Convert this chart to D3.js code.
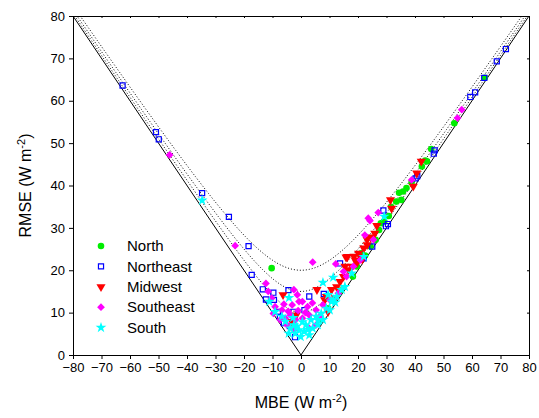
<!DOCTYPE html>
<html>
<head>
<meta charset="utf-8">
<script src="https://cdn.jsdelivr.net/npm/d3@7"></script>
<style>
  body { margin: 0; background: #fff; }
  text { font-family: Arial, "Liberation Sans", sans-serif; fill: #000; }
</style>
</head>
<body>
<div id="chart"></div>
<script>
// Data: [MBE, RMSE] pairs
const north = [
  [-10.3, 20.5], [18.2, 18.5], [27.4, 29.5], [30.8, 32.8], [34.4, 38.3], [33.4, 36.2],
  [37.0, 39.4], [38.8, 40.7], [43.6, 45.9], [45.7, 48.6], [53.8, 54.7], [64.5, 65.4],
  [26.2, 27.2], [24.4, 25.6], [28.0, 31.1], [31.6, 35.0], [35.2, 36.6], [35.8, 38.6],
  [42.4, 44.5], [44.2, 45.7], [21.1, 24.0], [19.6, 20.9], [14.0, 15.2], [9.5, 11.0],
  [6.5, 8.3], [29.2, 31.5], [22.5, 23.5]
];
const northeast = [
  [-62.6, 63.6], [-50.9, 52.6], [-49.9, 50.9], [-34.7, 38.2], [-25.3, 32.6], [-18.4, 25.7],
  [-17.3, 18.9], [-13.4, 15.5], [-12.3, 13.1], [-9.7, 14.7], [-9.5, 13.0], [-4.4, 15.3],
  [-8.1, 10.2], [-7.4, 9.0], [-6.0, 7.5], [-2.7, 10.2], [1.2, 10.6], [2.9, 13.8],
  [-2.1, 4.2], [-3.9, 6.8], [8.0, 14.4], [13.7, 21.6], [28.9, 34.1], [25.0, 25.6],
  [29.8, 30.4], [30.5, 30.9], [40.2, 41.7], [40.8, 42.2], [46.9, 48.3], [46.6, 47.5],
  [59.4, 60.9], [61.1, 62.0], [64.3, 65.4], [68.7, 69.3], [71.9, 72.2], [22.0, 22.8]
];
const midwest = [
  [-6.3, 14.2], [5.6, 15.4], [15.8, 23.1], [31.4, 36.6], [31.8, 34.6], [42.2, 45.7],
  [40.6, 42.9], [39.4, 39.8], [26.6, 30.5], [25.9, 28.7], [23.2, 27.2], [22.0, 25.2],
  [20.2, 24.0], [19.0, 22.4], [17.8, 20.9], [16.6, 20.1], [14.9, 18.5], [13.7, 17.3],
  [12.5, 16.1], [10.7, 15.4], [8.9, 13.8], [9.5, 10.2], [8.3, 13.0], [24.4, 27.8],
  [18.6, 23.3], [19.6, 21.7], [20.8, 23.3], [23.2, 26.0], [-3.2, 7.9], [-1.7, 9.4],
  [15.4, 20.9], [16.3, 23.2], [12.0, 13.5], [21.5, 22.6]
];
const southeast = [
  [-46.1, 47.2], [-23.1, 25.8], [-12.3, 16.9], [-11.5, 15.0], [4.1, 21.9], [12.2, 21.5],
  [23.6, 32.3], [24.2, 31.7], [27.1, 33.6], [22.4, 28.3], [38.8, 41.3], [54.9, 55.9],
  [56.4, 57.9], [-2.5, 15.4], [-1.3, 14.2], [-0.7, 12.6], [-3.1, 11.8], [-6.7, 10.6],
  [-9.1, 11.4], [-9.7, 9.8], [-5.5, 8.7], [-3.7, 9.4], [-1.9, 8.3], [0.5, 8.7],
  [2.9, 9.4], [5.3, 10.6], [7.7, 11.8], [10.1, 13.0], [13.1, 14.6], [14.9, 19.7],
  [0.5, 12.6], [2.3, 11.4], [-4.9, 7.1], [-2.5, 5.9], [2.9, 6.3], [5.3, 7.1],
  [16.0, 18.5], [18.4, 20.9], [20.8, 22.4], [25.4, 27.2], [-7.3, 8.3], [-10.3, 13.4],
  [-1.0, 10.5], [1.5, 10.0], [-4.5, 10.3], [4.0, 12.3], [-6.0, 12.0], [6.5, 9.0]
];
const south = [
  [-34.7, 36.5], [7.7, 17.1], [11.3, 18.3], [-4.2, 13.5], [-0.1, 4.3], [-2.0, 5.1],
  [1.1, 5.5], [2.9, 4.7], [-0.7, 5.9], [-2.5, 7.1], [1.7, 7.1], [3.5, 8.3],
  [5.3, 9.1], [7.1, 9.8], [8.9, 11.0], [10.7, 12.6], [12.5, 13.8], [14.3, 15.4],
  [17.8, 19.3], [22.0, 23.2], [15.4, 16.1], [10.1, 10.6], [7.7, 8.3], [5.9, 7.1],
  [-3.7, 6.3], [-5.5, 7.9], [-6.7, 9.1], [-9.1, 10.2], [-11.1, 12.6], [-4.3, 5.1],
  [4.1, 6.3], [29.2, 32.7], [9.5, 14.2], [11.3, 13.0], [0.5, 7.8], [-1.5, 6.8],
  [2.5, 6.0], [6.0, 8.2], [-2.8, 8.8], [12.0, 12.4]
];
const seriesNames = ["North", "Northeast", "Midwest", "Southeast", "South"];
const seriesData = [north, northeast, midwest, southeast, south];
const seriesColors = ["#00ee00", "#0000ff", "#ff0000", "#ff00ff", "#00ffff"];
const xTicks = d3.range(-80, 81, 10);
const yTicks = d3.range(0, 81, 10);
const sdLevels = [10, 15, 20];

const width = 539, height = 418;
const margin = { top: 16, right: 10, bottom: 63, left: 73 };

const svg = d3.select('#chart').append('svg')
  .attr('width', width)
  .attr('height', height);

const x = d3.scaleLinear().domain([-80, 80]).range([margin.left, width - margin.right]);
const y = d3.scaleLinear().domain([0, 80]).range([height - margin.bottom, margin.top]);

svg.append('clipPath').attr('id', 'clip')
  .append('rect')
  .attr('x', margin.left).attr('y', margin.top)
  .attr('width', x(80) - x(-80)).attr('height', y(0) - y(80));

const plot = svg.append('g').attr('clip-path', 'url(#clip)');

// V lines RMSE = |MBE|
const line = d3.line().x(d => x(d[0])).y(d => y(d[1]));
plot.append('path')
  .attr('d', line([[-80, 80], [0, 0], [80, 80]]))
  .attr('fill', 'none').attr('stroke', '#000').attr('stroke-width', 1);

// dotted curves RMSE^2 = MBE^2 + SD^2
sdLevels.forEach(c => {
  const pts = d3.range(-80, 80.01, 0.5).map(m => [m, Math.sqrt(m * m + c * c)]);
  plot.append('path')
    .attr('d', line(pts))
    .attr('fill', 'none').attr('stroke', '#000')
    .attr('stroke-width', 1).attr('stroke-dasharray', '1,2');
});

// markers
const symbols = [d3.symbolCircle, d3.symbolSquare, d3.symbolTriangle, d3.symbolSquare, d3.symbolStar];
const sizes = [34, 26, 36, 30, 36];
function drawMarker(g, i) {
  const p = g.append('path').attr('d', d3.symbol(symbols[i], sizes[i])());
  if (i === 1) {
    p.attr('fill', 'none').attr('stroke', seriesColors[i]).attr('stroke-width', 1.2);
  } else {
    p.attr('fill', seriesColors[i]);
  }
  if (i === 2) p.attr('transform', 'rotate(180)');
  if (i === 3) p.attr('transform', 'rotate(45)');
  return p;
}

seriesData.forEach((data, i) => {
  data.forEach(d => {
    const g = plot.append('g').attr('transform', `translate(${x(d[0])},${y(d[1])})`);
    drawMarker(g, i);
  });
});

// axes
const xAxis = d3.axisBottom(x).tickValues(xTicks).tickSize(4).tickPadding(4);
const yAxis = d3.axisLeft(y).tickValues(yTicks).tickSize(4).tickPadding(4);

svg.append('g')
  .attr('transform', `translate(0,${y(0)})`)
  .call(xAxis)
  .call(g => g.selectAll('text').attr('font-size', 13).style('font-family', 'Arial, "Liberation Sans", sans-serif'));

svg.append('g')
  .attr('transform', `translate(${x(-80)},0)`)
  .call(yAxis)
  .call(g => g.selectAll('text').attr('font-size', 13).style('font-family', 'Arial, "Liberation Sans", sans-serif'));

// top and right frame with inward ticks
svg.append('g')
  .attr('transform', `translate(0,${y(80)})`)
  .call(d3.axisBottom(x).tickValues(xTicks).tickSize(2).tickFormat(''));
svg.append('g')
  .attr('transform', `translate(${x(80)},0)`)
  .call(d3.axisLeft(y).tickValues(yTicks).tickSize(2).tickFormat(''));

svg.selectAll('.domain, .tick line').attr('stroke', '#000');

// axis titles
const xt = svg.append('text')
  .attr('x', x(0)).attr('y', 408)
  .attr('text-anchor', 'middle').attr('font-size', 16);
xt.append('tspan').text('MBE (W m');
xt.append('tspan').attr('dy', -6).attr('font-size', 11).text('-2');
xt.append('tspan').attr('dy', 6).text(')');

const yt = svg.append('text')
  .attr('transform', `translate(31,${y(40)}) rotate(-90)`)
  .attr('text-anchor', 'middle').attr('font-size', 16);
yt.append('tspan').text('RMSE (W m');
yt.append('tspan').attr('dy', -6).attr('font-size', 11).text('-2');
yt.append('tspan').attr('dy', 6).text(')');

// legend
const legend = svg.append('g');
seriesNames.forEach((name, i) => {
  const ly = 246 + i * 20.4;
  const g = legend.append('g').attr('transform', `translate(101,${ly})`);
  drawMarker(g, i);
  legend.append('text')
    .attr('x', 127).attr('y', ly)
    .attr('dy', '0.35em')
    .attr('font-size', 15)
    .text(name);
});
</script>
</body>
</html>
